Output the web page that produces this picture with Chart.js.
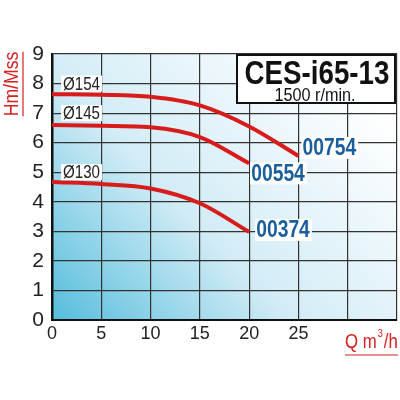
<!DOCTYPE html>
<html>
<head>
<meta charset="utf-8">
<script src="https://cdn.jsdelivr.net/npm/chart.js@4/dist/chart.umd.min.js"></script>
<style>
  html, body { margin: 0; padding: 0; background: #fff; }
  #wrap { width: 400px; height: 400px; }
</style>
</head>
<body>
<div id="wrap"><canvas id="grafico"></canvas></div>
<script>
// Caudal (m3/h) y altura (m)
const caudal = [0, 5, 10, 15, 20, 25];
const h154 = [7.64, 7.62, 7.55, 7.26, 6.55, 5.55];
const h145 = [6.6, 6.57, 6.52, 6.19, 5.3];
const h130 = [4.67, 4.6, 4.45, 3.95, 2.98];
const diametros = ['Ø154', 'Ø145', 'Ø130'];
const diamNivel = [8, 7, 5];
const codigos = ['00754', '00554', '00374'];
const xTicks = [0, 5, 10, 15, 20, 25];
const FONT = "'Liberation Sans', Arial, sans-serif";
const SX = 0.84; // letra estrecha

function puntos(vals) {
  return vals.map((v, i) => ({ x: caudal[i], y: v }));
}

// texto comprimido horizontalmente
function narrow(ctx, t, x, y, sx) {
  sx = sx || SX;
  ctx.save();
  ctx.translate(x, y);
  ctx.scale(sx, 1);
  ctx.fillText(t, 0, 0);
  ctx.restore();
  return ctx.measureText(t).width * sx;
}

const extras = {
  id: 'extras',
  beforeDraw(chart) {
    const { ctx, chartArea: a } = chart;
    const g = ctx.createLinearGradient(a.left, a.bottom, a.left + (a.right - a.left) * 0.8, a.top);
    g.addColorStop(0, '#55bddc');
    g.addColorStop(0.45, '#d2ecf6');
    g.addColorStop(1, '#ffffff');
    ctx.save();
    ctx.fillStyle = g;
    ctx.fillRect(a.left, a.top, a.right - a.left, a.bottom - a.top);
    ctx.restore();
  },
  afterDatasetsDraw(chart) {
    const { ctx, chartArea: a, scales: { x, y } } = chart;
    ctx.save();
    ctx.textBaseline = 'middle';
    ctx.textAlign = 'left';
    // diametros
    ctx.font = '18px ' + FONT;
    diametros.forEach((t, i) => {
      const py = y.getPixelForValue(diamNivel[i]);
      const w = ctx.measureText(t).width * SX;
      ctx.fillStyle = '#fff';
      ctx.fillRect(a.left + 9, py - 8, w + 4, 16);
      ctx.fillStyle = '#222';
      narrow(ctx, t, a.left + 11, py + 1);
    });
    // codigos
    ctx.font = 'bold 23px ' + FONT;
    const ends = [[25, 5.55, 4, -8], [20, 5.3, 2, 10], [20, 2.98, 7, -2]];
    codigos.forEach((t, i) => {
      const e = ends[i];
      const px = x.getPixelForValue(e[0]) + e[2];
      const py = y.getPixelForValue(e[1]) + e[3];
      const w = ctx.measureText(t).width * SX;
      ctx.fillStyle = '#fff';
      ctx.fillRect(px - 1, py - 11, w + 3, 22);
      ctx.fillStyle = '#1a5e9e';
      narrow(ctx, t, px, py + 1);
    });
    // cuadro titulo
    ctx.fillStyle = '#fff';
    ctx.fillRect(237, 55, 158, 48);
    ctx.strokeStyle = '#111';
    ctx.lineWidth = 2;
    ctx.strokeRect(237, 55, 158, 48);
    ctx.fillStyle = '#111';
    ctx.font = 'bold 33px ' + FONT;
    let w = ctx.measureText('CES-i65-13').width * SX;
    narrow(ctx, 'CES-i65-13', 317 - w / 2, 75);
    ctx.font = '18px ' + FONT;
    w = ctx.measureText('1500 r/min.').width * 0.9;
    narrow(ctx, '1500 r/min.', 315 - w / 2, 96, 0.9);
    // titulos de ejes
    ctx.fillStyle = '#d42020';
    ctx.strokeStyle = '#d42020';
    ctx.lineWidth = 1.2;
    ctx.font = '21px ' + FONT;
    ctx.save();
    ctx.translate(12, 84);
    ctx.rotate(-Math.PI / 2);
    const wy = ctx.measureText('Hm/Mss').width * SX;
    narrow(ctx, 'Hm/Mss', -wy / 2, 0);
    ctx.beginPath();
    ctx.moveTo(-wy / 2, 11);
    ctx.lineTo(wy / 2, 11);
    ctx.stroke();
    ctx.restore();
    ctx.font = '20px ' + FONT;
    const wq = narrow(ctx, 'Q m', 345, 342);
    ctx.font = '11px ' + FONT;
    narrow(ctx, '3', 345 + wq + 1, 334);
    ctx.font = '20px ' + FONT;
    narrow(ctx, '/h', 345 + wq + 7, 342);
    ctx.beginPath();
    ctx.moveTo(345, 355);
    ctx.lineTo(398, 355);
    ctx.stroke();
    ctx.restore();
  }
};

const serie = (vals) => ({
  data: puntos(vals),
  borderColor: '#d81c1c',
  borderWidth: 4,
  pointRadius: 0,
  cubicInterpolationMode: 'monotone',
  fill: false
});

new Chart(document.getElementById('grafico'), {
  type: 'line',
  data: { datasets: [serie(h154), serie(h145), serie(h130)] },
  options: {
    responsive: true,
    maintainAspectRatio: false,
    animation: false,
    layout: { padding: { top: 54, right: 2, left: 0, bottom: 0 } },
    plugins: { legend: { display: false }, tooltip: { enabled: false } },
    scales: {
      x: {
        type: 'linear',
        min: 0, max: 35,
        afterFit: s => { s.height = 80; },
        afterBuildTicks: s => { s.ticks = [0, 5, 10, 15, 20, 25, 30, 35].map(v => ({ value: v })); },
        ticks: {
          callback: v => xTicks.includes(v) ? String(v) : '',
          color: '#222',
          font: { family: FONT, size: 18 },
          maxRotation: 0,
          padding: 3
        },
        grid: { color: '#333', lineWidth: 1.2, drawTicks: false },
        border: { color: '#111', width: 2 }
      },
      y: {
        min: 0, max: 9,
        afterFit: s => { s.width = 52; },
        ticks: {
          stepSize: 1,
          color: '#222',
          font: { family: FONT, size: 21 },
          padding: 8
        },
        grid: { color: '#333', lineWidth: 1.2, drawTicks: false },
        border: { color: '#111', width: 2.5 }
      }
    }
  },
  plugins: [extras]
});
</script>
</body>
</html>
